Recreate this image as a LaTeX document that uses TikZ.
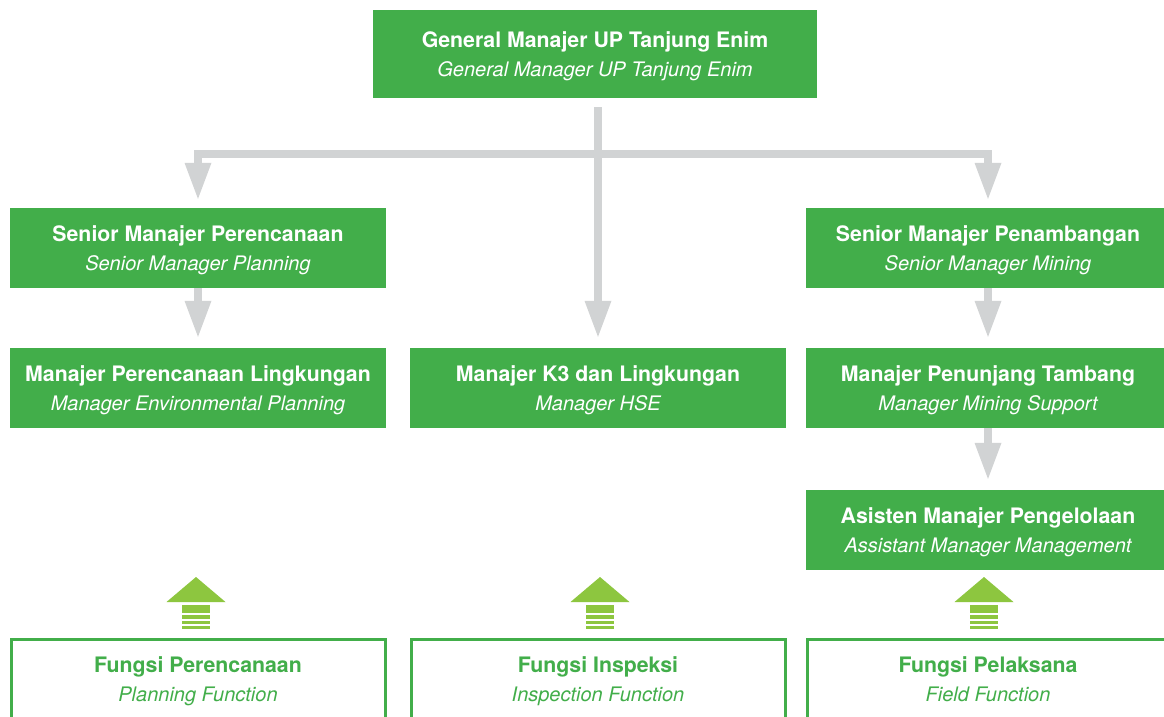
\documentclass[tikz,border=0pt]{standalone}
\usepackage{fontspec}
\setmainfont{TeX Gyre Heros}
\usetikzlibrary{arrows.meta}
\definecolor{gfill}{HTML}{42AE4A}
\definecolor{garr}{HTML}{D1D3D4}
\definecolor{lgreen}{HTML}{8DC63F}
\begin{document}
\begin{tikzpicture}[x=1pt,y=-1pt,
  box/.style={fill=gfill, draw=none, minimum width=#1, minimum height=80pt, inner sep=0pt},
  box/.default=376pt,
  obox/.style={draw=gfill, line width=3pt, fill=white, minimum width=#1, minimum height=102pt, inner sep=0pt},
  obox/.default=374pt,
  tb/.style={text=white, font=\fontsize{21.3}{24}\selectfont\bfseries, anchor=base, inner sep=0pt},
  ti/.style={text=white, font=\fontsize{20}{23}\selectfont\itshape, anchor=base, inner sep=0pt},
  gb/.style={tb, text=gfill},
  gi/.style={ti, text=gfill},
  garrow/.style={draw=garr, line width=8pt, line join=miter,
    -{Triangle[width=27pt,length=36pt,line width=0pt]}}
]
\useasboundingbox (0,0) rectangle (1164,716);
\clip (0,0) rectangle (1164,716);
\fill[white] (0,0) rectangle (1164,716);

% green boxes
\node[box=444pt, minimum height=88pt] (gm) at (595,54) {};
\node[box] (spl) at (198,248) {};
\node[box=364pt] (spn) at (988,248) {};
\node[box] (mpl) at (198,388) {};
\node[box] (mk3) at (598,388) {};
\node[box=364pt] (mpt) at (988,388) {};
\node[box=364pt] (amp) at (988,530) {};

% outlined boxes
\node[obox] (fpl) at (198,690) {};
\node[obox] (fin) at (598,690) {};
\node[obox=362pt] (fpe) at (988,690) {};

% texts
\node[tb] (gmt1) at (595,47.5) {General Manajer UP Tanjung Enim};
\node[ti] (gmt2) at (595,76.5) {General Manager UP Tanjung Enim};
\node[tb] (splt1) at (198,241.5) {Senior Manajer Perencanaan};
\node[ti] (splt2) at (198,270.5) {Senior Manager Planning};
\node[tb] (spnt1) at (988,241.5) {Senior Manajer Penambangan};
\node[ti] (spnt2) at (988,270.5) {Senior Manager Mining};
\node[tb] (mplt1) at (198,381.5) {Manajer Perencanaan Lingkungan};
\node[ti] (mplt2) at (198,410.5) {Manager Environmental Planning};
\node[tb] (mk3t1) at (598,381.5) {Manajer K3 dan Lingkungan};
\node[ti] (mk3t2) at (598,410.5) {Manager HSE};
\node[tb] (mptt1) at (988,381.5) {Manajer Penunjang Tambang};
\node[ti] (mptt2) at (988,410.5) {Manager Mining Support};
\node[tb] (ampt1) at (988,523.5) {Asisten Manajer Pengelolaan};
\node[ti] (ampt2) at (988,552.5) {Assistant Manager Management};
\node[gb] (fplt1) at (198,672.5) {Fungsi Perencanaan};
\node[gi] (fplt2) at (198,701.5) {Planning Function};
\node[gb] (fint1) at (598,672.5) {Fungsi Inspeksi};
\node[gi] (fint2) at (598,701.5) {Inspection Function};
\node[gb] (fpet1) at (988,672.5) {Fungsi Pelaksana};
\node[gi] (fpet2) at (988,701.5) {Field Function};

% gray connectors
\coordinate (j) at (598,153.5);
\draw[garrow] ([yshift=-9pt]gm.south -| mk3.north) -- ([yshift=11pt]mk3.north);
\draw[garrow] (j) -| ([yshift=9pt]spl.north);
\draw[garrow] (j) -| ([yshift=9pt]spn.north);
\draw[garrow] (spl.south) -- ([yshift=11pt]mpl.north);
\draw[garrow] (spn.south) -- ([yshift=11pt]mpt.north);
\draw[garrow] (mpt.south) -- ([yshift=11pt]amp.north);

% green up arrows
\foreach \cx in {196,600,984}{
  \fill[lgreen] (\cx-29.5,602) -- (\cx,577) -- (\cx+29.5,602) -- cycle;
  \fill[lgreen] (\cx-14,605) rectangle (\cx+14,612.7);
  \fill[lgreen] (\cx-14,615) rectangle (\cx+14,619.3);
  \fill[lgreen] (\cx-14,621) rectangle (\cx+14,624.2);
  \fill[lgreen] (\cx-14,626) rectangle (\cx+14,628.8);
}
\end{tikzpicture}
\end{document}
